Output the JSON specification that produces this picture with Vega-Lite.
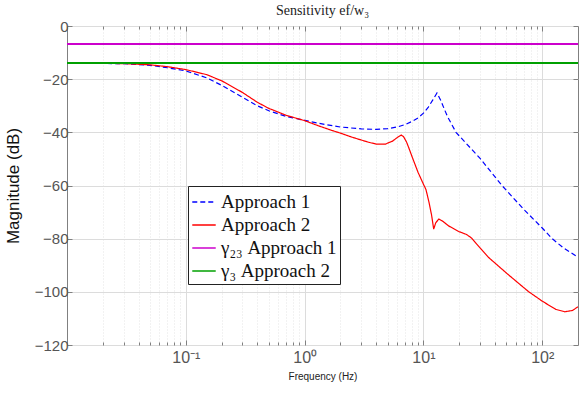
{
  "$schema": "https://vega.github.io/schema/vega-lite/v6.json",
  "width": 511,
  "height": 319,
  "autosize": {"type": "none"},
  "padding": {"left": 67, "top": 26, "right": 1, "bottom": 51},
  "background": "white",
  "title": {"text": "Sensitivity ef/w₃", "font": "Liberation Serif", "fontSize": 14, "fontWeight": "normal", "color": "#222", "offset": 1},
  "config": {
    "view": {"stroke": "#808080", "strokeWidth": 1},
    "axis": {"labelFont": "Liberation Sans", "titleFont": "Liberation Sans", "domain": false}
  },
  "data": {"values": [
    {"s": "Approach 1", "f": 0.01, "db": -14.0},
    {"s": "Approach 1", "f": 0.02, "db": -14.05},
    {"s": "Approach 1", "f": 0.03, "db": -14.2},
    {"s": "Approach 1", "f": 0.05, "db": -14.8},
    {"s": "Approach 1", "f": 0.07, "db": -15.7},
    {"s": "Approach 1", "f": 0.1, "db": -16.9},
    {"s": "Approach 1", "f": 0.15, "db": -19.5},
    {"s": "Approach 1", "f": 0.2, "db": -22.3},
    {"s": "Approach 1", "f": 0.3, "db": -26.8},
    {"s": "Approach 1", "f": 0.4, "db": -30.0},
    {"s": "Approach 1", "f": 0.5, "db": -31.9},
    {"s": "Approach 1", "f": 0.7, "db": -34.0},
    {"s": "Approach 1", "f": 1.0, "db": -35.5},
    {"s": "Approach 1", "f": 1.5, "db": -37.1},
    {"s": "Approach 1", "f": 2.0, "db": -38.0},
    {"s": "Approach 1", "f": 3.0, "db": -38.7},
    {"s": "Approach 1", "f": 4.0, "db": -38.9},
    {"s": "Approach 1", "f": 5.0, "db": -38.6},
    {"s": "Approach 1", "f": 6.0, "db": -38.0},
    {"s": "Approach 1", "f": 7.0, "db": -37.1},
    {"s": "Approach 1", "f": 8.0, "db": -35.9},
    {"s": "Approach 1", "f": 9.0, "db": -34.6},
    {"s": "Approach 1", "f": 10.0, "db": -32.8},
    {"s": "Approach 1", "f": 11.0, "db": -30.5},
    {"s": "Approach 1", "f": 12.0, "db": -27.8},
    {"s": "Approach 1", "f": 13.0, "db": -25.2},
    {"s": "Approach 1", "f": 14.0, "db": -28.0},
    {"s": "Approach 1", "f": 15.0, "db": -31.3},
    {"s": "Approach 1", "f": 16.0, "db": -34.2},
    {"s": "Approach 1", "f": 18.8, "db": -40.0},
    {"s": "Approach 1", "f": 25.0, "db": -46.0},
    {"s": "Approach 1", "f": 30.0, "db": -49.8},
    {"s": "Approach 1", "f": 45.8, "db": -60.0},
    {"s": "Approach 1", "f": 70.0, "db": -69.0},
    {"s": "Approach 1", "f": 100, "db": -76.0},
    {"s": "Approach 1", "f": 120, "db": -79.8},
    {"s": "Approach 1", "f": 150, "db": -83.4},
    {"s": "Approach 1", "f": 200, "db": -87.0},
    {"s": "Approach 2", "f": 0.01, "db": -14.0},
    {"s": "Approach 2", "f": 0.02, "db": -14.05},
    {"s": "Approach 2", "f": 0.03, "db": -14.15},
    {"s": "Approach 2", "f": 0.05, "db": -14.6},
    {"s": "Approach 2", "f": 0.07, "db": -15.3},
    {"s": "Approach 2", "f": 0.1, "db": -16.4},
    {"s": "Approach 2", "f": 0.15, "db": -18.3},
    {"s": "Approach 2", "f": 0.2, "db": -20.6},
    {"s": "Approach 2", "f": 0.3, "db": -25.0},
    {"s": "Approach 2", "f": 0.4, "db": -28.7},
    {"s": "Approach 2", "f": 0.5, "db": -31.0},
    {"s": "Approach 2", "f": 0.7, "db": -33.6},
    {"s": "Approach 2", "f": 1.0, "db": -35.6},
    {"s": "Approach 2", "f": 1.3, "db": -37.5},
    {"s": "Approach 2", "f": 1.7, "db": -39.3},
    {"s": "Approach 2", "f": 2.0, "db": -40.3},
    {"s": "Approach 2", "f": 2.5, "db": -41.8},
    {"s": "Approach 2", "f": 3.0, "db": -42.9},
    {"s": "Approach 2", "f": 3.5, "db": -43.8},
    {"s": "Approach 2", "f": 4.0, "db": -44.4},
    {"s": "Approach 2", "f": 4.8, "db": -44.4},
    {"s": "Approach 2", "f": 5.5, "db": -43.3},
    {"s": "Approach 2", "f": 6.0, "db": -42.0},
    {"s": "Approach 2", "f": 6.5, "db": -41.0},
    {"s": "Approach 2", "f": 6.8, "db": -41.6},
    {"s": "Approach 2", "f": 7.2, "db": -43.6},
    {"s": "Approach 2", "f": 7.5, "db": -45.6},
    {"s": "Approach 2", "f": 8.0, "db": -49.0},
    {"s": "Approach 2", "f": 9.0, "db": -55.0},
    {"s": "Approach 2", "f": 10.0, "db": -59.5},
    {"s": "Approach 2", "f": 10.5, "db": -61.5},
    {"s": "Approach 2", "f": 11.1, "db": -66.0},
    {"s": "Approach 2", "f": 11.7, "db": -71.0},
    {"s": "Approach 2", "f": 12.2, "db": -76.4},
    {"s": "Approach 2", "f": 12.7, "db": -74.0},
    {"s": "Approach 2", "f": 13.5, "db": -72.6},
    {"s": "Approach 2", "f": 14.5, "db": -73.4},
    {"s": "Approach 2", "f": 16.3, "db": -75.2},
    {"s": "Approach 2", "f": 19.8, "db": -77.3},
    {"s": "Approach 2", "f": 23.0, "db": -78.4},
    {"s": "Approach 2", "f": 25.5, "db": -79.8},
    {"s": "Approach 2", "f": 28.0, "db": -82.0},
    {"s": "Approach 2", "f": 35.4, "db": -87.1},
    {"s": "Approach 2", "f": 52.0, "db": -93.6},
    {"s": "Approach 2", "f": 76.6, "db": -99.9},
    {"s": "Approach 2", "f": 100, "db": -103.5},
    {"s": "Approach 2", "f": 130, "db": -106.6},
    {"s": "Approach 2", "f": 155, "db": -107.5},
    {"s": "Approach 2", "f": 180, "db": -107.0},
    {"s": "Approach 2", "f": 200, "db": -105.6},
    {"s": "γ₂₃ Approach 1", "f": 0.01, "db": -6.8},
    {"s": "γ₂₃ Approach 1", "f": 200, "db": -6.8},
    {"s": "γ₃ Approach 2", "f": 0.01, "db": -13.9},
    {"s": "γ₃ Approach 2", "f": 200, "db": -13.9}
  ]},
  "layer": [
    {
      "transform": [{"filter": "datum.s == 'Approach 1' || datum.s == 'Approach 2'"}],
      "mark": {"type": "line", "clip": true, "strokeWidth": 1.2},
      "encoding": {
        "x": {
          "field": "f", "type": "quantitative",
          "scale": {"type": "log", "domain": [0.01, 200], "nice": false},
          "axis": {
            "title": "Frequency  (Hz)", "titleFontSize": 10, "titleFontWeight": "normal", "titleColor": "#222", "titlePadding": 6,
            "values": [0.02,0.03,0.04,0.05,0.06,0.07,0.08,0.09,0.1,0.2,0.3,0.4,0.5,0.6,0.7,0.8,0.9,1,2,3,4,5,6,7,8,9,10,20,30,40,50,60,70,80,90,100],
            "labelExpr": "datum.value == 0.1 ? '10⁻¹' : datum.value == 1 ? '10⁰' : datum.value == 10 ? '10¹' : datum.value == 100 ? '10²' : ''",
            "labelFontSize": 16, "labelColor": "#555", "labelPadding": 9,
            "tickColor": "#808080",
            "tickSize": {"condition": {"test": "indexof([0.1,1,10,100], datum.value) >= 0", "value": -5}, "value": -3},
            "gridColor": {"condition": {"test": "indexof([0.1,1,10,100], datum.value) >= 0", "value": "#dcdcdc"}, "value": "#e4e4e4"},
            "gridDash": {"condition": {"test": "indexof([0.1,1,10,100], datum.value) >= 0", "value": []}, "value": [1, 2]},
            "gridWidth": 1
          }
        },
        "y": {
          "field": "db", "type": "quantitative",
          "scale": {"domain": [-120, 0], "nice": false},
          "axis": {
            "title": "Magnitude (dB)", "titleFontSize": 17, "titleFontWeight": "normal", "titleColor": "#111", "titlePadding": 12,
            "values": [-120,-100,-80,-60,-40,-20,0],
            "labelFontSize": 15, "labelColor": "#555", "labelPadding": 4,
            "tickColor": "#808080", "tickSize": -5,
            "gridColor": "#dcdcdc"
          }
        },
        "color": {
          "field": "s", "type": "nominal",
          "scale": {"domain": ["Approach 1", "Approach 2", "γ₂₃ Approach 1", "γ₃ Approach 2"], "range": ["#0000ff", "#ff0000", "#cc00cc", "#00a000"]},
          "legend": {
            "title": null, "orient": "none", "legendX": 121, "legendY": 160,
            "symbolType": "stroke", "symbolSize": 550, "symbolStrokeWidth": 1.6,
            "labelFont": "Liberation Serif", "labelFontSize": 19, "labelColor": "#111",
            "strokeColor": "#222", "fillColor": "white", "padding": 3, "rowPadding": 0, "labelOffset": 4
          }
        },
        "strokeDash": {
          "field": "s", "type": "nominal",
          "scale": {"domain": ["Approach 1", "Approach 2", "γ₂₃ Approach 1", "γ₃ Approach 2"], "range": [[5, 3], [1, 0], [1, 0], [1, 0]]},
          "legend": {
            "title": null, "orient": "none", "legendX": 121, "legendY": 160,
            "symbolType": "stroke", "symbolSize": 550, "symbolStrokeWidth": 1.6,
            "labelFont": "Liberation Serif", "labelFontSize": 19, "labelColor": "#111",
            "strokeColor": "#222", "fillColor": "white", "padding": 3, "rowPadding": 0, "labelOffset": 4
          }
        }
      }
    },
    {
      "transform": [{"filter": "datum.s != 'Approach 1' && datum.s != 'Approach 2'"}],
      "mark": {"type": "line", "clip": true, "strokeWidth": 2},
      "encoding": {
        "x": {"field": "f", "type": "quantitative", "axis": null},
        "y": {"field": "db", "type": "quantitative", "axis": null},
        "color": {"field": "s", "type": "nominal"},
        "strokeDash": {"field": "s", "type": "nominal"}
      }
    },
    {
      "mark": {"type": "point", "opacity": 0},
      "encoding": {
        "x": {
          "field": "f", "type": "quantitative",
          "axis": {
            "orient": "top", "title": null, "labels": false, "grid": false,
            "values": [0.02,0.03,0.04,0.05,0.06,0.07,0.08,0.09,0.1,0.2,0.3,0.4,0.5,0.6,0.7,0.8,0.9,1,2,3,4,5,6,7,8,9,10,20,30,40,50,60,70,80,90,100],
            "tickColor": "#808080",
            "tickSize": {"condition": {"test": "indexof([0.1,1,10,100], datum.value) >= 0", "value": -5}, "value": -3}
          }
        },
        "y": {
          "field": "db", "type": "quantitative",
          "axis": {
            "orient": "right", "title": null, "labels": false, "grid": false,
            "values": [-120,-100,-80,-60,-40,-20,0],
            "tickColor": "#808080", "tickSize": -5
          }
        }
      }
    }
  ],
  "resolve": {"axis": {"x": "independent", "y": "independent"}}
}
